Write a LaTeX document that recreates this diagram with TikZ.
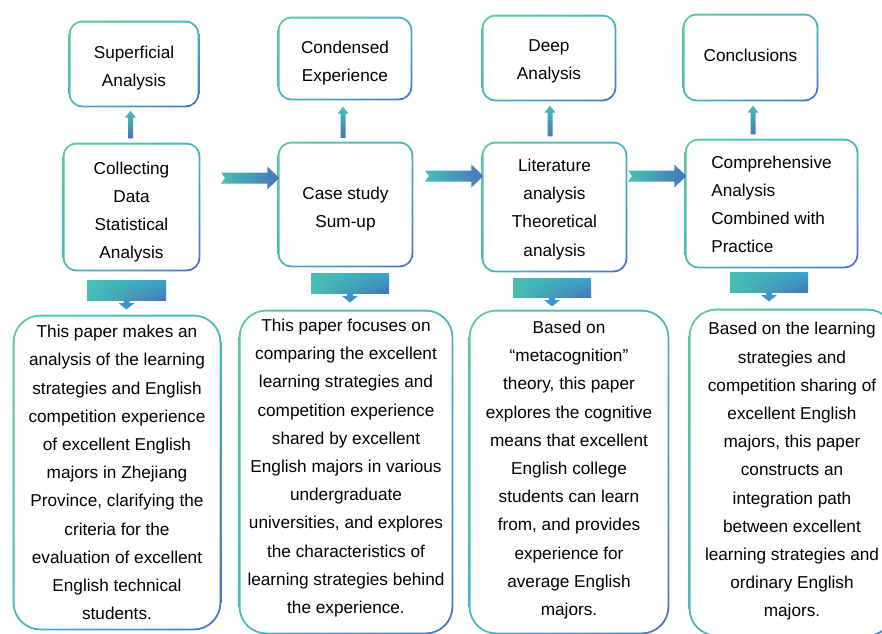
\documentclass[tikz,border=0pt]{standalone}
\usepackage{fontspec}
\setmainfont{Liberation Sans}
\usetikzlibrary{backgrounds}
\usetikzlibrary{calc}
\usetikzlibrary{shadings}
\definecolor{framegreen}{RGB}{92,200,160}
\definecolor{frameteal}{RGB}{72,184,190}
\definecolor{frameblue}{RGB}{70,112,200}
\definecolor{arrowteal}{RGB}{70,192,180}
\definecolor{arrowmid}{RGB}{58,166,200}
\definecolor{arrowblue}{RGB}{70,116,186}
\definecolor{tipblue}{RGB}{62,150,200}
\tikzstyle{stage} = [rectangle, rounded corners=12pt, fill=white, inner sep=0pt, align=center, font=\fontsize{17.2}{28.2}\selectfont]
\tikzstyle{summary} = [stage, rounded corners=26pt]
\tikzstyle{frameshade} = [upper left=framegreen, upper right=frameteal, lower left=frameteal, lower right=frameblue]
\tikzstyle{barshade} = [upper left=arrowteal, lower left=arrowteal, upper right=arrowmid, lower right=arrowblue]
\tikzset{textup/.style={execute at end node={\rule[-#1]{0pt}{0pt}}}}
\newcommand{\topgap}[1]{\rule{0pt}{#1}}
\newcommand{\rim}{1.6pt}
% notched block arrow: #1 tail, #2 tip
\newcommand{\flowarrow}[2]{\shade [left color=arrowteal, right color=arrowblue] ($(#1)+(0,-5.5)$) -- ($(#2)+(-12,-5.5)$) -- ($(#2)+(-12,-11.5)$) -- (#2) -- ($(#2)+(-12,11.5)$) -- ($(#2)+(-12,5.5)$) -- ($(#1)+(0,5.5)$) -- ($(#1)+(4,0)$) -- cycle;}
% small up arrow: #1 foot, #2 tip
\newcommand{\liftarrow}[2]{\shade [top color=arrowteal, bottom color=arrowblue] ($(#1)+(-2.5,0)$) -- ($(#2)+(-2.5,7)$) -- ($(#2)+(-5.5,7)$) -- (#2) -- ($(#2)+(5.5,7)$) -- ($(#2)+(2.5,7)$) -- ($(#1)+(2.5,0)$) -- cycle;}
% wide bar with a small tip below: #1 upper left, #2 lower right
\newcommand{\dropbar}[2]{\shade [barshade] (#1) rectangle (#2);
  \coordinate (dropmid) at ($(#1|-#2)!.5!(#2)$);
  \fill [tipblue] ($(dropmid)+(-3,0)$) -- ($(dropmid)+(-3,3)$) -- ($(dropmid)+(-8,3)$) -- ($(dropmid)+(0,9.5)$) -- ($(dropmid)+(8,3)$) -- ($(dropmid)+(3,3)$) -- ($(dropmid)+(3,0)$) -- cycle;}

\begin{document}
\begin{tikzpicture}[x=1pt, y=-1pt]
  \useasboundingbox (0,0) rectangle (882,633);

  % Upper blocks
  \node [stage, minimum width=127pt, minimum height=83pt] (sup)   at (134,64)    {\topgap{20.3pt}Superficial\\Analysis};
  \node [stage, minimum width=131pt, minimum height=80pt] (cond)  at (345,58.5)  {\topgap{22.3pt}Condensed\\Experience};
  \node [stage, minimum width=131pt, minimum height=83pt] (deep)  at (549,58)    {\topgap{18.3pt}Deep\\Analysis};
  \node [stage, textup=4pt, minimum width=132pt, minimum height=84pt] (concl) at (750.5,57.5) {Conclusions};

  % Middle blocks
  \node [stage, minimum width=134pt, minimum height=125pt] (data) at (131.5,207)   {\topgap{22.3pt}Collecting\\Data\\Statistical\\Analysis};
  \node [stage, minimum width=132pt, minimum height=122pt] (case) at (345.5,204.5) {\topgap{22.3pt}Case study\\Sum-up};
  \node [stage, minimum width=142pt, minimum height=127pt] (lit)  at (554.5,207)   {\topgap{17.3pt}Literature\\analysis\\Theoretical\\analysis};
  \node [stage, minimum width=170pt, minimum height=126pt, align=left] (comp) at (771.5,203.5) {\topgap{14.3pt}Comprehensive\\Analysis\\Combined with\\Practice};

  % Lower blocks
  \node [summary, minimum width=205pt, minimum height=312pt] (zhej) at (117,472.5) {This paper makes an\\analysis of the learning\\strategies and English\\competition experience\\of excellent English\\majors in Zhejiang\\Province, clarifying the\\criteria for the\\evaluation of excellent\\English technical\\students.};
  \node [summary, textup=11.6pt, minimum width=211pt, minimum height=321pt] (univ) at (346,472) {This paper focuses on\\comparing the excellent\\learning strategies and\\competition experience\\shared by excellent\\English majors in various\\undergraduate\\universities, and explores\\the characteristics of\\learning strategies behind\\the experience.};
  \node [summary, textup=7.6pt, minimum width=197pt, minimum height=321pt] (meta) at (569,472) {Based on\\“metacognition”\\theory, this paper\\explores the cognitive\\means that excellent\\English college\\students can learn\\from, and provides\\experience for\\average English\\majors.};
  \node [summary, textup=5.6pt, minimum width=203pt, minimum height=324pt] (integ) at (792,472.5) {Based on the learning\\strategies and\\competition sharing of\\excellent English\\majors, this paper\\constructs an\\integration path\\between excellent\\learning strategies and\\ordinary English\\majors.};

  %  gradient frames
  \begin{scope}[on background layer]
    \fill [white] (0,0) rectangle (882,633);
    \foreach \n/\r in {sup/13.6pt, cond/13.6pt, deep/13.6pt, concl/13.6pt, data/13.6pt, case/13.6pt, lit/13.6pt, comp/13.6pt, zhej/27.6pt, univ/27.6pt, meta/27.6pt, integ/27.6pt}
      \shade [frameshade, rounded corners=\r] ([shift={(-\rim,\rim)}]\n.north west) rectangle ([shift={(\rim,-\rim)}]\n.south east);
  \end{scope}

  % Flow between stages
  \coordinate (flow1) at (221,178);
  \coordinate (flow2) at (425,176);
  \coordinate (flow3) at (628,176);
  \flowarrow{flow1}{flow1 -| case.west}
  \flowarrow{flow2}{flow2 -| lit.west}
  \flowarrow{flow3}{flow3 -| comp.west}

  % Up
  \liftarrow{$(data.north)+(-1,-6)$}{$(data.north |- sup.south)+(-1,5)$}
  \liftarrow{$(case.north)+(-2.5,-5.5)$}{$(case.north |- cond.south)+(-2.5,8)$}
  \liftarrow{$(lit.north)+(-4.5,-7)$}{$(lit.north |- deep.south)+(-4.5,6)$}
  \liftarrow{$(comp.north)+(-18.5,-6)$}{$(comp.north |- concl.south)+(-18.5,6)$}

  % Down
  \coordinate (bar1a) at (87,280);  \coordinate (bar1b) at (166,300);
  \coordinate (bar2a) at (311,273); \coordinate (bar2b) at (389,293);
  \coordinate (bar3a) at (513,278); \coordinate (bar3b) at (591,297);
  \coordinate (bar4a) at (730,272); \coordinate (bar4b) at (808,292);
  \dropbar{bar1a}{bar1b}
  \dropbar{bar2a}{bar2b}
  \dropbar{bar3a}{bar3b}
  \dropbar{bar4a}{bar4b}

\end{tikzpicture}
\end{document}
